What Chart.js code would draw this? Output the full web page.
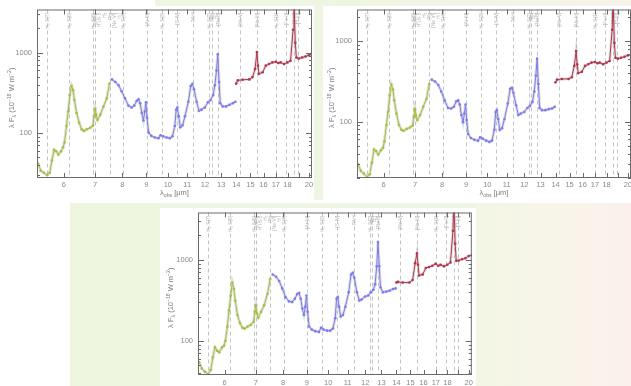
<!DOCTYPE html>
<html>
<head>
<meta charset="utf-8">
<script src="https://cdn.jsdelivr.net/npm/chart.js@4.4.1/dist/chart.umd.min.js"></script>
<style>
  html, body { margin: 0; padding: 0; }
  body { width: 631px; height: 386px; overflow: hidden; position: relative; background: #fff; }
  .bg, .panel { position: absolute; }
  canvas { display: block; }
</style>
</head>
<body>
<div class="bg" style="left:155px;top:0;width:168px;height:6px;background:#eef5e2"></div>
<div class="bg" style="left:314px;top:0;width:9px;height:200px;background:#eef5e2"></div>
<div class="bg" style="left:323px;top:0;width:308px;height:6px;background:linear-gradient(to right,#eef5e2,#f7f3ea)"></div>
<div class="bg" style="left:70px;top:203px;width:561px;height:5px;background:#eef5e2"></div>
<div class="bg" style="left:70px;top:203px;width:90px;height:183px;background:#eef5df"></div>
<div class="bg" style="left:476px;top:203px;width:155px;height:183px;background:linear-gradient(to right,#f2f6e4,#f9f4ea 60%,#fbf0ec)"></div>

<div class="panel" style="left:0;top:0"><canvas id="c1" width="316" height="200"></canvas></div>
<div class="panel" style="left:323px;top:0"><canvas id="c2" width="312" height="200"></canvas></div>
<div class="panel" style="left:160px;top:203px"><canvas id="c3" width="316" height="200"></canvas></div>

<script>
// wavelengths (micron) for the three instrument segments
const wlGreen = [5.29, 5.36, 5.44, 5.53, 5.60, 5.66, 5.72, 5.78, 5.84, 5.92, 5.98, 6.02, 6.08, 6.13, 6.18, 6.23, 6.28,
  6.32, 6.39, 6.47, 6.55, 6.62, 6.72, 6.83, 6.92, 6.96, 7.00, 7.03, 7.08, 7.18, 7.29, 7.41, 7.51];
const wlBlue = [7.60, 7.73, 7.85, 7.97, 8.10, 8.24, 8.37, 8.48, 8.58, 8.66, 8.73, 8.80, 8.87, 8.93, 8.98, 9.03, 9.10,
  9.22, 9.38, 9.55, 9.65, 9.77, 9.94, 10.10, 10.23, 10.35, 10.42, 10.48, 10.55, 10.63, 10.75, 10.88, 11.06, 11.19,
  11.28, 11.37, 11.52, 11.65, 11.79, 11.99, 12.18, 12.33, 12.49, 12.60, 12.70, 12.78, 12.86, 12.94, 13.09, 13.31,
  13.53, 13.76, 13.94];
const wlRed = [13.99, 14.10, 14.44, 14.92, 15.16, 15.35, 15.49, 15.57, 15.65, 15.93, 16.18, 16.44, 16.71, 16.99,
  17.2, 17.4, 17.7, 17.99, 18.27, 18.5, 18.58, 18.7, 18.8, 19.03, 19.34, 19.66, 19.99, 20.32];

// lambda F_lambda, 1e-18 W m^-2
const fluxGreen1 = [41.5, 33.8, 31.9, 29.9, 31.9, 45.6, 61.5, 59.2, 54, 59, 66.3, 76.2, 122, 185, 296, 385, 341, 257,
  177, 134, 111, 106, 111, 116, 123, 161, 200, 169, 146, 169, 213, 270, 411];
const fluxBlue1 = [464, 431, 392, 331, 270, 219, 207, 219, 250, 262, 234, 177, 143, 185, 241, 154, 101, 92, 87.8, 86.1,
  93.6, 91, 87.8, 86.1, 91, 122, 194, 207, 161, 118, 125, 161, 245, 385, 407, 350, 245, 189, 195, 207, 241, 257, 296,
  392, 597, 954, 431, 234, 214, 214, 224, 234, 245];
const fluxRed1 = [411, 451, 460, 464, 496, 627, 1019, 688, 544, 570, 688, 721, 755, 770, 741, 755, 721, 755, 792, 1923,
  4500, 1323, 869, 845, 869, 894, 928, 954];

const fluxGreen2 = [29.4, 24.4, 22.6, 20.6, 22.2, 30.9, 45, 43, 39.1, 44.2, 47.2, 56.9, 91, 132, 212, 289, 251, 184,
  126, 91, 79, 76.9, 81.3, 84.5, 89.4, 115, 143, 121, 105, 121, 153, 193, 294];
const fluxBlue2 = [333, 315, 286, 237, 184, 148, 146, 153, 179, 184, 163, 121, 98, 126, 163, 105, 70, 62.5, 59.6, 58,
  63.7, 61.4, 58, 56, 58, 79, 132, 139, 108, 79, 82.8, 108, 168, 256, 263, 229, 160, 121, 126, 132, 148, 157, 176,
  237, 373, 608, 294, 148, 139, 139, 143, 146, 153];
const fluxRed2 = [309, 333, 340, 340, 356, 494, 755, 518, 402, 417, 494, 518, 543, 553, 533, 543, 518, 543, 569, 1390,
  3500, 954, 625, 608, 625, 643, 668, 680];

const fluxGreen3 = [55, 45.7, 41.7, 39.1, 43.7, 63, 83.2, 75.9, 72.4, 83.2, 87.1, 100, 150, 240, 360, 525, 437, 316,
  209, 166, 145, 142, 151, 158, 171, 230, 275, 220, 195, 229, 275, 380, 586];
const fluxBlue3 = [661, 620, 550, 445, 347, 308, 302, 331, 380, 391, 331, 251, 209, 263, 363, 229, 151, 138, 132, 129,
  145, 138, 134, 134, 142, 191, 331, 347, 263, 200, 209, 263, 398, 661, 692, 603, 398, 316, 325, 353, 363, 398, 429,
  501, 832, 1660, 832, 457, 398, 406, 417, 437, 445];
const fluxRed3 = [525, 535, 525, 525, 565, 912, 1202, 871, 643, 661, 794, 817, 847, 896, 847, 871, 832, 871, 929, 2291,
  5500, 1585, 973, 981, 1019, 1047, 1117, 1140];

// axis ticks
const xTicks = [6, 7, 8, 9, 10, 11, 12, 13, 14, 15, 16, 17, 18, 19, 20];
const xLabels = [6, 7, 8, 9, 10, 11, 12, 13, 14, 15, 16, 17, 18, 20];
const yTicks = [100, 1000];

// emission line markers
const lineWaves = [5.53, 6.15, 6.93, 7.00, 7.51, 8.04, 9.01, 9.70, 10.44, 11.33, 12.27, 12.40, 12.78, 14.25, 15.49,
  17.0, 17.85, 18.58, 18.93];
const lineNames = [["H₂ S(7)"], ["H₂ S(6)"], ["H₂ S(5)"], ["[Ar II]", "H I 6-5", "H₂"], ["Pfα", "[Ne VI]", "H I"],
  ["H₂ S(4)"], ["[Ar III]"], ["H₂ S(3)"], ["[S IV]"], ["PAH"], ["H₂ S(2)"], ["Huα", "H I"], ["[Ne II]"],
  ["[Ne V]"], ["[Ne III]"], ["H₂ S(1)"], ["[Fe II]"], ["[S III]"], ["[P III]"]];

const X_MIN = 5.26, X_MAX = 20.3;
const GREEN = "#a4c23a", BLUE = "#7b7bf3", RED = "#b3364a";
const FONT = "'Liberation Sans', 'DejaVu Sans', sans-serif";

function richText(ctx, parts, x, y, rot, size) {
  ctx.save();
  ctx.translate(x, y);
  ctx.rotate(rot);
  ctx.textBaseline = "middle";
  ctx.textAlign = "left";
  const small = size * 0.68;
  let total = 0;
  parts.forEach(([t, k]) => {
    ctx.font = (k === "n" ? size : small) + "px " + FONT;
    total += ctx.measureText(t).width;
  });
  let cx = -total / 2;
  parts.forEach(([t, k]) => {
    ctx.font = (k === "n" ? size : small) + "px " + FONT;
    const dy = k === "sub" ? size * 0.3 : k === "sup" ? -size * 0.38 : 0;
    ctx.fillText(t, cx, dy);
    cx += ctx.measureText(t).width;
  });
  ctx.restore();
}

const spectrumPlugin = {
  id: "spectrum",
  beforeDraw(chart) {
    const { ctx, chartArea: a } = chart;
    ctx.save();
    ctx.fillStyle = "#fff";
    ctx.fillRect(a.left, a.top, a.right - a.left, a.bottom - a.top);
    ctx.restore();
  },
  beforeDatasetsDraw(chart) {
    const { ctx, chartArea: a, scales: { x } } = chart;
    ctx.save();
    ctx.strokeStyle = "#c4c4c4";
    ctx.lineWidth = 1;
    ctx.setLineDash([4, 3]);
    lineWaves.forEach((w, i) => {
      const px = Math.round(x.getPixelForValue(w)) + 0.5;
      ctx.beginPath();
      ctx.moveTo(px, a.top);
      ctx.lineTo(px, a.bottom);
      ctx.stroke();
      // rotated tags at the top
      ctx.save();
      ctx.fillStyle = "#b4b4b4";
      ctx.font = "5px " + FONT;
      ctx.textBaseline = "middle";
      ctx.textAlign = "right";
      lineNames[i].forEach((name, j) => {
        ctx.save();
        ctx.translate(px + j * 4.5, a.top + 3);
        ctx.rotate(-Math.PI / 2);
        ctx.fillText(name, 0, 0);
        ctx.restore();
      });
      ctx.restore();
    });
    ctx.restore();
  },
  afterDraw(chart) {
    const { ctx, chartArea: a, scales: { x, y } } = chart;
    const opts = chart.options.plugins.spectrum;
    ctx.save();
    ctx.strokeStyle = "#6a6a6a";
    ctx.lineWidth = 1;
    ctx.strokeRect(a.left + 0.5, a.top + 0.5, a.right - a.left - 1, a.bottom - a.top - 1);
    ctx.beginPath();
    xTicks.forEach(v => {
      const px = Math.round(x.getPixelForValue(v)) + 0.5;
      ctx.moveTo(px, a.bottom); ctx.lineTo(px, a.bottom - 5);
      ctx.moveTo(px, a.top); ctx.lineTo(px, a.top + 5);
    });
    [10, 100, 1000].forEach(d => {
      for (let m = 1; m < 10; m++) {
        const v = m * d;
        if (v < y.min || v > y.max) continue;
        const py = Math.round(y.getPixelForValue(v)) + 0.5;
        const len = m === 1 ? 6 : 3;
        ctx.moveTo(a.left, py); ctx.lineTo(a.left + len, py);
        ctx.moveTo(a.right, py); ctx.lineTo(a.right - len, py);
      }
    });
    ctx.stroke();

    ctx.fillStyle = "#7a7a7a";
    richText(ctx, [["λ", "n"], ["obs", "sub"], [" [μm]", "n"]], (a.left + a.right) / 2, a.bottom + opts.xTitleGap, 0, 7.5);
    richText(ctx, [["λ F", "n"], ["λ", "sub"], [" (10", "n"], ["−18", "sup"], [" W m", "n"], ["−2", "sup"], [")", "n"]],
      opts.yTitleX, (a.top + a.bottom) / 2 + 4, -Math.PI / 2, 7.5);
    ctx.restore();
  }
};

function segment(wl, flux, color) {
  const pts = wl.map((w, i) => ({ x: w, y: flux[i] }));
  return [
    { data: pts, borderColor: "rgba(165,165,165,0.35)", borderWidth: 3, pointRadius: 0, order: 2 },
    { data: pts, borderColor: color, borderWidth: 1, pointRadius: 1.3, pointBackgroundColor: color,
      pointBorderWidth: 0, order: 1 }
  ];
}

const panels = [
  { id: "c1", green: fluxGreen1, blue: fluxBlue1, red: fluxRed1, yMin: 27.5, yMax: 3440,
    left: 37, right: 3, top: 6, bottom: 178, xPad: 2, xTitleGap: 15, yTitleX: 12 },
  { id: "c2", green: fluxGreen2, blue: fluxBlue2, red: fluxRed2, yMin: 19.9, yMax: 2485,
    left: 34, right: 4, top: 6, bottom: 178, xPad: 2, xTitleGap: 15, yTitleX: 9 },
  { id: "c3", green: fluxGreen3, blue: fluxBlue3, red: fluxRed3, yMin: 38, yMax: 3843,
    left: 38, right: 3, top: 5, bottom: 172, xPad: 3, xTitleGap: 17, yTitleX: 11 }
];

panels.forEach(p => {
  const canvas = document.getElementById(p.id);
  new Chart(canvas, {
    type: "line",
    data: {
      datasets: [
        ...segment(wlGreen, p.green, GREEN),
        ...segment(wlBlue, p.blue, BLUE),
        ...segment(wlRed, p.red, RED)
      ]
    },
    options: {
      responsive: false,
      animation: false,
      devicePixelRatio: 1,
      layout: { padding: { left: 0, right: p.right, top: p.top, bottom: 0 } },
      plugins: {
        legend: { display: false },
        tooltip: { enabled: false },
        spectrum: { xTitleGap: p.xTitleGap, yTitleX: p.yTitleX }
      },
      elements: { line: { tension: 0 } },
      scales: {
        x: {
          type: "logarithmic",
          min: X_MIN,
          max: X_MAX,
          grid: { display: false, drawTicks: false },
          border: { display: false },
          afterBuildTicks: s => { s.ticks = xTicks.map(v => ({ value: v })); },
          afterFit: s => { s.height = canvas.height - p.bottom; },
          ticks: {
            autoSkip: false,
            maxRotation: 0,
            padding: p.xPad,
            color: "#8a8a8a",
            font: { size: 7.5, family: FONT },
            callback: v => (xLabels.includes(v) ? String(v) : "")
          }
        },
        y: {
          type: "logarithmic",
          min: p.yMin,
          max: p.yMax,
          grid: { display: false, drawTicks: false },
          border: { display: false },
          afterBuildTicks: s => { s.ticks = yTicks.map(v => ({ value: v })); },
          afterFit: s => { s.width = p.left; },
          ticks: {
            padding: 5,
            color: "#8a8a8a",
            font: { size: 7.5, family: FONT },
            callback: v => String(v)
          }
        }
      }
    },
    plugins: [spectrumPlugin]
  });
});
</script>
</body>
</html>
